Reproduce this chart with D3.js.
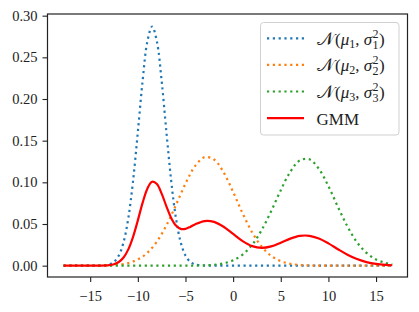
<!DOCTYPE html>
<html>
<head>
<meta charset="utf-8">
<script src="https://cdn.jsdelivr.net/npm/d3@7"></script>
<style>
  body { margin: 0; background: #fff; }
  svg text { font-family: "Liberation Serif", "DejaVu Serif", serif; fill: #222; }
</style>
</head>
<body>
<div id="chart"></div>
<script>
// sample points
const xs = [-17.8, -17, -16, -15, -14, -13, -12.5, -12, -11.5, -11, -10.5, -10, -9.5, -9, -8.5, -8, -7.5, -7, -6.5, -6,
  -5.5, -5, -4.5, -4, -3, -2, -1, 0, 1, 2, 3, 4, 5, 6, 7, 8, 9, 10, 11, 12, 13, 14, 15, 16, 16.7];

const n1 = [0, 0, 0, 0, 0.0001, 0.0015, 0.0046, 0.0121, 0.0280, 0.0570, 0.1019, 0.1603, 0.2216, 0.2690, 0.2870,
  0.2690, 0.2216, 0.1603, 0.1019, 0.0570, 0.0280, 0.0121, 0.0046, 0.0015, 0.0001,
  0, 0, 0, 0, 0, 0, 0, 0, 0, 0, 0, 0, 0, 0, 0, 0, 0, 0, 0, 0];

const n2 = [0, 0, 0.00001, 0.00004, 0.00014, 0.00044, 0.00075, 0.00125, 0.00204, 0.00322, 0.00497, 0.00746, 0.0109,
  0.0155, 0.02145, 0.0289, 0.03792, 0.04842, 0.06019, 0.07284, 0.08582, 0.09844, 0.1099, 0.1194, 0.1302, 0.1274,
  0.1120, 0.08841, 0.06267, 0.03991, 0.02281, 0.01172, 0.0054, 0.00224, 0.00083, 0.00028, 0.00008, 0.00002,
  0, 0, 0, 0, 0, 0, 0];

const n3 = [0, 0, 0, 0, 0, 0, 0, 0, 0, 0, 0, 0, 0, 0, 0, 0, 0, 0, 0, 0, 0,
  0.00003, 0.00006, 0.00012, 0.00037, 0.00106, 0.00274, 0.00638, 0.01335, 0.02517, 0.04281, 0.06557, 0.09054,
  0.1127, 0.1263, 0.1276, 0.1162, 0.09538, 0.07053, 0.047, 0.02822, 0.01528, 0.00745, 0.00328, 0.00173];

const gmm = [0, 0, 0, 0.00002, 0.00009, 0.00067, 0.00177, 0.00437, 0.00978, 0.01955, 0.03465, 0.05436, 0.07538,
  0.09244, 0.10064, 0.09793, 0.08646, 0.07115, 0.05729, 0.04809, 0.04413, 0.04423, 0.04654, 0.04947, 0.05352,
  0.05253, 0.04669, 0.03803, 0.02943, 0.02341, 0.02134, 0.02317, 0.02757, 0.03247, 0.03571, 0.03584, 0.03257,
  0.02672, 0.01975, 0.01316, 0.0079, 0.00428, 0.00209, 0.00092, 0.00048];

const xTicks = [-15, -10, -5, 0, 5, 10, 15];
const yTicks = [0, 0.05, 0.10, 0.15, 0.20, 0.25, 0.30];

const series = [
  { name: 'n1', values: n1, color: '#1f77b4', dotted: true, sub: '1' },
  { name: 'n2', values: n2, color: '#ff7f0e', dotted: true, sub: '2' },
  { name: 'n3', values: n3, color: '#2ca02c', dotted: true, sub: '3' },
  { name: 'GMM', values: gmm, color: '#ff0000', dotted: false }
];

const svgWidth = 419, svgHeight = 312;
const plotLeft = 47.5, plotRight = 407.5, plotTop = 14, plotBottom = 277;

const svg = d3.select('#chart').append('svg')
  .attr('width', svgWidth)
  .attr('height', svgHeight);

const x = d3.scaleLinear().domain([-19.48, 18.3]).range([plotLeft, plotRight]);
const y = d3.scaleLinear().domain([-0.0136, 0.302]).range([plotBottom, plotTop]);

const line = d3.line()
  .x((d, i) => x(xs[i]))
  .y(d => y(d))
  .curve(d3.curveCatmullRom);

const plot = svg.append('g');
plot.append('clipPath').attr('id', 'clip')
  .append('rect').attr('x', plotLeft).attr('y', plotTop)
  .attr('width', plotRight - plotLeft).attr('height', plotBottom - plotTop);

series.forEach(s => {
  plot.append('path')
    .attr('clip-path', 'url(#clip)')
    .attr('d', line(s.values))
    .attr('fill', 'none')
    .attr('stroke', s.color)
    .attr('stroke-width', 2.2)
    .attr('stroke-dasharray', s.dotted ? '2.2,3.6' : null);
});

// axes
const xAxis = svg.append('g')
  .attr('transform', `translate(0,${plotBottom})`)
  .call(d3.axisBottom(x).tickValues(xTicks).tickSize(5).tickPadding(4).tickFormat(d3.format('d')));
const yAxis = svg.append('g')
  .attr('transform', `translate(${plotLeft},0)`)
  .call(d3.axisLeft(y).tickValues(yTicks).tickSize(5).tickPadding(5).tickFormat(d3.format('.2f')));

[xAxis, yAxis].forEach(g => {
  g.select('.domain').remove();
  g.selectAll('line').attr('stroke', '#222').attr('stroke-width', 1.1);
  g.selectAll('text').style('font-size', '14.5px').attr('fill', '#222')
    .style('font-family', '"Liberation Serif", serif');
});
xAxis.selectAll('text').attr('dy', '1em');

svg.append('rect')
  .attr('x', plotLeft).attr('y', plotTop)
  .attr('width', plotRight - plotLeft).attr('height', plotBottom - plotTop)
  .attr('fill', 'none').attr('stroke', '#222').attr('stroke-width', 1.2);

// legend
const lg = svg.append('g');
lg.append('rect')
  .attr('x', 260.5).attr('y', 22.5).attr('width', 138.5).attr('height', 112.5)
  .attr('rx', 3).attr('fill', '#fff').attr('fill-opacity', 0.8)
  .attr('stroke', '#d0d0d0').attr('stroke-width', 1);

series.forEach((s, i) => {
  const cy = 38.3 + i * 26.6;
  lg.append('line')
    .attr('x1', 267).attr('x2', 304).attr('y1', cy).attr('y2', cy)
    .attr('stroke', s.color).attr('stroke-width', 2.2)
    .attr('stroke-dasharray', s.dotted ? '2.2,3.6' : null);
  const t = lg.append('text').attr('x', 316.5).attr('y', cy + 6.5).style('font-size', '17px');
  if (!s.dotted) {
    t.text(s.name);
    return;
  }
  t.append('tspan').style('font-family', '"DejaVu Serif", serif').style('font-size', '18px').text('\u{1D4A9}');
  t.append('tspan').attr('dx', 1.5).text('(');
  t.append('tspan').style('font-style', 'italic').text('μ');
  t.append('tspan').attr('dy', 3).style('font-size', '12px').text(s.sub);
  t.append('tspan').attr('dy', -3).text(', ');
  t.append('tspan').style('font-style', 'italic').text('σ');
  t.append('tspan').attr('dx', 0.5).attr('dy', -7).style('font-size', '12px').text('2');
  t.append('tspan').attr('dx', -6).attr('dy', 11).style('font-size', '12px').text(s.sub);
  t.append('tspan').attr('dx', 0.5).attr('dy', -4).text(')');
});
</script>
</body>
</html>
